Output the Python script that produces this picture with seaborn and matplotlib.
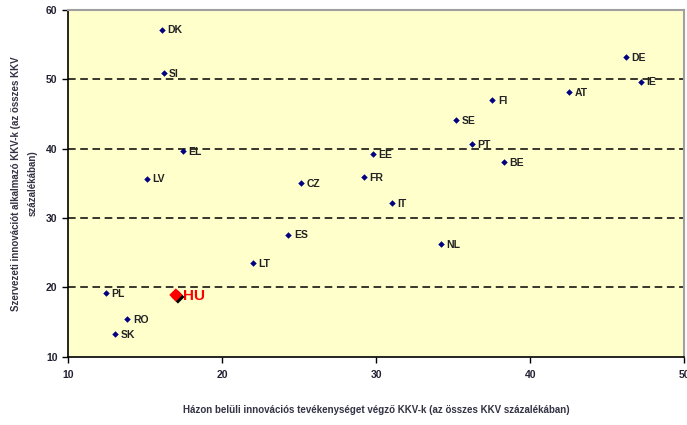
import matplotlib
matplotlib.use("Agg")
import matplotlib.pyplot as plt
import matplotlib.patheffects as pe
import seaborn as sns
import pandas as pd

countries = ["DK", "SI", "EL", "LV", "PL", "RO", "SK", "CZ", "FR", "EE", "IT",
             "SE", "PT", "FI", "BE", "AT", "DE", "IE", "ES", "LT", "NL"]
inhouse = [16.1, 16.2, 17.45, 15.1, 12.45, 13.85, 13.05, 25.15, 29.2, 29.8, 31.0,
           35.2, 36.2, 37.55, 38.3, 42.5, 46.2, 47.2, 24.3, 22.0, 34.2]
organisational = [57.2, 50.9, 39.65, 35.7, 19.2, 15.4, 13.25, 35.0, 35.9, 39.2, 32.1,
                  44.1, 40.7, 47.05, 38.05, 48.15, 53.25, 49.7, 27.6, 23.5, 26.2]
hu_x = [17.0]
hu_y = [18.9]

df = pd.DataFrame({"x": inhouse, "y": organisational, "label": countries})

sns.set_style("ticks")
plt.rcParams["font.family"] = ["Liberation Sans", "DejaVu Sans"]
plt.rcParams["font.weight"] = "bold"

fig = plt.figure(figsize=(6.87, 4.25), dpi=100)
ax = fig.add_axes([0.099, 0.161, 0.897, 0.815])
ax.set_facecolor("#FFFFCC")

sns.scatterplot(data=df, x="x", y="y", marker="D", s=11, color="#000080",
                edgecolor="#000080", linewidth=0, ax=ax, zorder=3)
for xi, yi, lab in zip(inhouse, organisational, countries):
    ax.annotate(lab, (xi, yi), xytext=(4, -0.5), textcoords="offset points",
                va="center", ha="left", fontsize=7.5, fontweight="bold", color="#222222")

# highlighted Hungary point with dark shadow
sns.scatterplot(x=hu_x, y=hu_y, marker="D", s=45, color="#FF0000", linewidth=0, ax=ax,
                zorder=4)
ax.collections[-1].set_path_effects([pe.SimplePatchShadow(offset=(1.5, -1.5),
                                                          shadow_rgbFace="black", alpha=1),
                                     pe.Normal()])
ax.annotate("HU", (hu_x[0], hu_y[0]), xytext=(5, -0.5), textcoords="offset points",
            va="center", ha="left", fontsize=11, fontweight="bold", color="#FF0000")

ax.set_xlim(10, 50)
ax.set_ylim(10, 60)
ax.set_xticks([10, 20, 30, 40, 50])
ax.set_yticks([10, 20, 30, 40, 50, 60])
for yv in [20, 30, 40, 50]:
    ax.axhline(yv, color="black", linestyle=(0, (5, 3)), linewidth=1.1, zorder=1)

ax.tick_params(axis="both", labelsize=7.5, length=4, width=1, color="black",
               labelcolor="#222233")
ax.tick_params(axis="x", pad=6)
for lbl in ax.get_xticklabels() + ax.get_yticklabels():
    lbl.set_fontweight("bold")

for side in ["left", "bottom"]:
    ax.spines[side].set_color("black")
    ax.spines[side].set_linewidth(1.2)
for side in ["top", "right"]:
    ax.spines[side].set_visible(True)
    ax.spines[side].set_color("#A0A0A0")
    ax.spines[side].set_linewidth(1.5)

ax.set_xlabel("Házon belüli innovációs tevékenységet végző KKV-k (az összes KKV százalékában)",
              fontsize=7, fontweight="bold", color="#333344", labelpad=18)
ax.set_ylabel("Szervezeti innovációt alkalmazó KKV-k (az összes KKV\nszázalékában)",
              fontsize=7, fontweight="bold", color="#333344", labelpad=6,
              linespacing=1.9)

fig.savefig("out.png", dpi=100)
